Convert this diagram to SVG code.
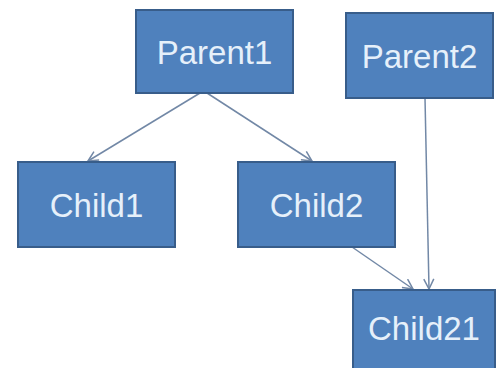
<svg xmlns="http://www.w3.org/2000/svg" width="496" height="368" viewBox="0 0 496 368">
  <style>
    .box { fill: #4f81bd; stroke: #385d8a; stroke-width: 2; }
    .label { font-family: "Liberation Sans", Arial, sans-serif; font-size: 33px; fill: #e6f0fa; text-anchor: middle; }
    .edge { fill: none; stroke: #7288a6; stroke-width: 1.5; marker-end: url(#arrow); }
  </style>
  <defs>
    <marker id="arrow" viewBox="0 0 12 12" refX="11" refY="6" markerWidth="12" markerHeight="12" markerUnits="userSpaceOnUse" orient="auto">
      <path d="M1,1 L11,6 L1,11" fill="none" stroke="#7288a6" stroke-width="1.5"/>
    </marker>
  </defs>
  <rect width="496" height="368" fill="#ffffff"/>

  <g id="connectors">
    <line class="edge" x1="200" y1="93" x2="88" y2="161"/>
    <line class="edge" x1="207" y1="93" x2="312" y2="161"/>
    <line class="edge" x1="425" y1="98" x2="429" y2="289"/>
    <line class="edge" x1="352" y1="247" x2="413" y2="289"/>
  </g>

  <g id="parent1">
    <rect class="box" x="136" y="10" width="157" height="83"/>
    <text class="label" x="214.5" y="64">Parent1</text>
  </g>
  <g id="parent2">
    <rect class="box" x="346" y="13" width="147" height="85"/>
    <text class="label" x="419.5" y="67.5">Parent2</text>
  </g>
  <g id="child1">
    <rect class="box" x="18" y="162" width="157" height="85"/>
    <text class="label" x="96.5" y="216.5">Child1</text>
  </g>
  <g id="child2">
    <rect class="box" x="238" y="162" width="157" height="85"/>
    <text class="label" x="316.5" y="216.5">Child2</text>
  </g>
  <g id="child21">
    <rect class="box" x="353" y="290" width="142" height="82"/>
    <text class="label" x="424" y="340">Child21</text>
  </g>
</svg>
